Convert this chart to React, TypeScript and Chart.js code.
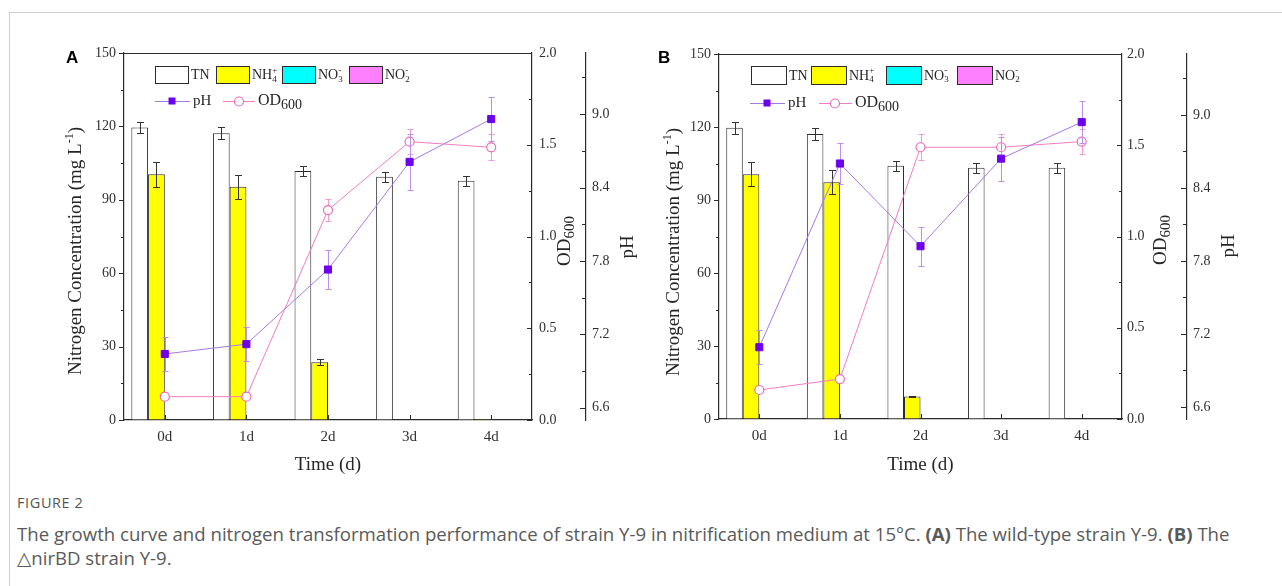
import React, { useEffect, useRef } from 'react';
import { Chart, registerables } from 'chart.js';

Chart.register(...registerables);

// ---------- data ----------
const categories = ['0d', '1d', '2d', '3d', '4d'];

const nitrogenTicks = [0, 30, 60, 90, 120, 150];
const nitrogenMinorTicks = [15, 45, 75, 105, 135];
const odTicks = [0, 0.5, 1.0, 1.5, 2.0];
const odMinorTicks = [0.25, 0.75, 1.25, 1.75];
const phTicks = [6.6, 7.2, 7.8, 8.4, 9.0];
const phMinorTicks = [6.9, 7.5, 8.1, 8.7, 9.3];

// Panel A (wild-type)
const tnA = [119.5, 117.2, 101.8, 99.4, 97.8];
const tnErrA = [2.4, 2.4, 2.2, 2.0, 2.0];
const nh4A = [100.4, 95.3, 23.6, 0, 0.4];
const nh4ErrA = [5.0, 5.0, 1.2, 0, 0];
const no3A = [0, 0, 0, 0, 0];
const no2A = [0, 0, 0, 0, 0];
const phA = [7.04, 7.12, 7.73, 8.61, 8.96];
const phErrA = [0.14, 0.14, 0.16, 0.23, 0.18];
const odA = [0.127, 0.127, 1.144, 1.517, 1.486];
const odErrA = [0, 0, 0.06, 0.07, 0.07];

// Panel B (ΔnirBD)
const tnB = [119.7, 117.1, 104.1, 103.3, 103.3];
const tnErrB = [2.4, 2.4, 2.0, 2.0, 2.0];
const nh4B = [100.6, 97.3, 9.2, 0, 0.3];
const nh4ErrB = [5.0, 5.0, 0.3, 0, 0];
const no3B = [0, 0, 0, 0, 0];
const no2B = [0, 0, 0, 0, 0];
const phB = [7.09, 8.6, 7.92, 8.64, 8.94];
const phErrB = [0.14, 0.17, 0.16, 0.18, 0.17];
const odB = [0.159, 0.219, 1.489, 1.489, 1.52];
const odErrB = [0, 0, 0.07, 0.07, 0.07];

// ---------- styles ----------
const SERIF = '"Liberation Serif", "Times New Roman", serif';
const AXIS = '#2b2b2b';
const TEXT = '#262626';
const TN_COLOR = '#ffffff';
const NH4_COLOR = '#ffff00';
const NO3_COLOR = '#00ffff';
const NO2_COLOR = '#ff80ff';
const PH_LINE = '#a47ae6';
const PH_MARK = '#6c00ee';
const PH_ERR = '#bb8ef2';
const OD_LINE = '#f07cc4';
const OD_MARK = '#ee6ab4';
const OD_ERR = '#f39ad0';

type Part = { t: string; size: number; dy: number; stack?: boolean };

function drawRich(ctx: CanvasRenderingContext2D, parts: Part[], x: number, y: number, rot: number, align: 'center' | 'left') {
  ctx.save();
  ctx.translate(x, y);
  ctx.rotate(rot);
  ctx.textBaseline = 'middle';
  ctx.textAlign = 'left';
  const widths = parts.map((p) => {
    ctx.font = `${p.size}px ${SERIF}`;
    return ctx.measureText(p.t).width;
  });
  let total = 0;
  parts.forEach((p, i) => {
    if (!p.stack) total += widths[i];
  });
  let cx = align === 'center' ? -total / 2 : 0;
  parts.forEach((p, i) => {
    ctx.font = `${p.size}px ${SERIF}`;
    ctx.fillText(p.t, cx, p.dy);
    if (!p.stack) cx += widths[i];
  });
  ctx.restore();
}

type PanelLayout = {
  canvasLeft: number;
  canvasWidth: number;
  leftW: number;
  odW: number;
  phW: number;
  padRight: number;
  padTop: number;
  padBottom: number;
  xH: number;
  letter: string;
  letterPos: [number, number];
  leftTitle: [number, number];
  timeTitle: [number, number];
  odTitle: [number, number];
  phTitle: [number, number];
  legendBoxes: number[];
  boxW: number;
  boxH: number;
  row1Top: number;
  row2Y: number;
  phLeg: [number, number, number, number];
  odLeg: [number, number, number, number];
  odPad: number;
  phPad: number;
};

type PanelData = {
  tn: number[]; tnErr: number[]; nh4: number[]; nh4Err: number[];
  no3: number[]; no2: number[]; ph: number[]; phErr: number[]; od: number[]; odErr: number[];
};

const layoutA: PanelLayout = {
  canvasLeft: 0, canvasWidth: 645, leftW: 124, odW: 54, phW: 50, padRight: 9,
  padTop: 53, padBottom: 20, xH: 40,
  letter: 'A', letterPos: [66, 63],
  leftTitle: [76, 251], timeTitle: [328, 465], odTitle: [565, 241], phTitle: [628, 247],
  legendBoxes: [31, 92, 158, 225], boxW: 33, boxH: 17, row1Top: 66, row2Y: 101,
  phLeg: [31, 66, 48, 69], odLeg: [99, 131, 115, 134], odPad: 7, phPad: 6,
};

const layoutB: PanelLayout = {
  canvasLeft: 645, canvasWidth: 637, leftW: 74, odW: 65, phW: 55, padRight: 40,
  padTop: 54, padBottom: 21, xH: 40,
  letter: 'B', letterPos: [658, 63],
  leftTitle: [674, 252], timeTitle: [920.5, 465], odTitle: [1161, 240], phTitle: [1229, 246],
  legendBoxes: [32, 92, 167, 238], boxW: 35, boxH: 18, row1Top: 66, row2Y: 103,
  phLeg: [31, 66, 48, 69], odLeg: [100, 133, 116, 136], odPad: 5, phPad: 6,
};

const dataA: PanelData = { tn: tnA, tnErr: tnErrA, nh4: nh4A, nh4Err: nh4ErrA, no3: no3A, no2: no2A, ph: phA, phErr: phErrA, od: odA, odErr: odErrA };
const dataB: PanelData = { tn: tnB, tnErr: tnErrB, nh4: nh4B, nh4Err: nh4ErrB, no3: no3B, no2: no2B, ph: phB, phErr: phErrB, od: odB, odErr: odErrB };

function drawErr(chart: any, index: number, meta: any) {
  const ds: any = chart.data.datasets[index];
  const errs: number[] | undefined = ds.errors;
  if (!errs) return;
  const scale = chart.scales[meta.yAxisID];
  const ctx: CanvasRenderingContext2D = chart.ctx;
  ctx.save();
  ctx.strokeStyle = ds.errColor;
  ctx.lineWidth = 1;
  const cap = ds.capHalf || 3.5;
  meta.data.forEach((el: any, i: number) => {
    const e = errs[i];
    if (!e) return;
    const v = ds.data[i];
    const x = Math.round(el.x) + 0.5;
    const yt = Math.round(scale.getPixelForValue(v + e)) + 0.5;
    const yb = Math.round(scale.getPixelForValue(v - e)) + 0.5;
    ctx.beginPath();
    ctx.moveTo(x, yt); ctx.lineTo(x, yb);
    ctx.moveTo(x - cap, yt); ctx.lineTo(x + cap, yt);
    ctx.moveTo(x - cap, yb); ctx.lineTo(x + cap, yb);
    ctx.stroke();
  });
  ctx.restore();
}

function makePlugins(L: PanelLayout) {
  const off = L.canvasLeft;
  const errorBars = {
    id: 'errorBars',
    beforeDatasetDraw(chart: any, args: any) {
      const ds: any = chart.data.datasets[args.index];
      if (ds.type === 'line') drawErr(chart, args.index, args.meta);
    },
    afterDatasetDraw(chart: any, args: any) {
      const ds: any = chart.data.datasets[args.index];
      if (ds.type !== 'line') drawErr(chart, args.index, args.meta);
    },
  };
  const decor = {
    id: 'decor',
    afterDraw(chart: any) {
      const ctx: CanvasRenderingContext2D = chart.ctx;
      const { chartArea, scales } = chart;
      ctx.save();
      ctx.strokeStyle = AXIS;
      ctx.lineWidth = 1;
      const line = (x1: number, y1: number, x2: number, y2: number) => {
        ctx.beginPath(); ctx.moveTo(x1, y1); ctx.lineTo(x2, y2); ctx.stroke();
      };
      const px = (s: any, v: number) => Math.round(s.getPixelForValue(v)) + 0.5;
      // top frame
      ctx.lineWidth = 1.2;
      line(chartArea.left, Math.round(chartArea.top) + 0.5, chartArea.right, Math.round(chartArea.top) + 0.5);
      ctx.lineWidth = 1;
      const y = scales.y;
      nitrogenTicks.forEach((v) => { const p = px(y, v); line(y.right - 5, p, y.right, p); });
      nitrogenMinorTicks.forEach((v) => { const p = px(y, v); line(y.right - 3, p, y.right, p); });
      const od = scales.od;
      odTicks.forEach((v) => { const p = px(od, v); line(od.left, p, od.left - 5, p); });
      odMinorTicks.forEach((v) => { const p = px(od, v); line(od.left, p, od.left - 3, p); });
      const ph = scales.ph;
      phTicks.forEach((v) => { const p = px(ph, v); line(ph.left, p, ph.left - 6, p); });
      phMinorTicks.forEach((v) => { const p = px(ph, v); line(ph.left, p, ph.left - 4, p); });
      const xs = scales.x;
      categories.forEach((_, i) => { const p = px(xs, i); line(p, chartArea.bottom, p, chartArea.bottom - 5); });

      // titles
      ctx.fillStyle = TEXT;
      drawRich(ctx, [
        { t: 'Nitrogen Concentration (mg L', size: 19, dy: 0 },
        { t: '-1', size: 12, dy: -6 },
        { t: ')', size: 19, dy: 0 },
      ], L.leftTitle[0] - off, L.leftTitle[1], -Math.PI / 2, 'center');
      drawRich(ctx, [{ t: 'Time (d)', size: 19, dy: 0 }], L.timeTitle[0] - off, L.timeTitle[1], 0, 'center');
      drawRich(ctx, [
        { t: 'OD', size: 19, dy: 0 },
        { t: '600', size: 15, dy: 5 },
      ], L.odTitle[0] - off, L.odTitle[1], -Math.PI / 2, 'center');
      drawRich(ctx, [{ t: 'pH', size: 19, dy: 0 }], L.phTitle[0] - off, L.phTitle[1], -Math.PI / 2, 'center');

      // panel letter
      ctx.font = `bold 17px "Liberation Sans", Arial, sans-serif`;
      ctx.fillStyle = '#000';
      ctx.textAlign = 'left';
      ctx.textBaseline = 'alphabetic';
      ctx.fillText(L.letter, L.letterPos[0] - off, L.letterPos[1]);

      // legend row 1
      const al = chartArea.left;
      const items: { fill: string; base: string; sub?: string; sup?: string }[] = [
        { fill: TN_COLOR, base: 'TN' },
        { fill: NH4_COLOR, base: 'NH', sub: '4', sup: '+' },
        { fill: NO3_COLOR, base: 'NO', sub: '3', sup: '-' },
        { fill: NO2_COLOR, base: 'NO', sub: '2', sup: '-' },
      ];
      const cy = L.row1Top + L.boxH / 2;
      items.forEach((it, i) => {
        const bx = al + L.legendBoxes[i];
        ctx.fillStyle = it.fill;
        ctx.fillRect(bx, L.row1Top, L.boxW, L.boxH);
        ctx.strokeStyle = AXIS;
        ctx.lineWidth = 1;
        ctx.strokeRect(Math.round(bx) + 0.5, L.row1Top + 0.5, L.boxW, L.boxH);
        ctx.fillStyle = TEXT;
        const parts: Part[] = [{ t: it.base, size: 14, dy: 0 }];
        if (it.sub) {
          parts.push({ t: it.sup || '', size: 9, dy: -5, stack: true });
          parts.push({ t: it.sub, size: 9, dy: 4 });
        }
        drawRich(ctx, parts, bx + L.boxW + 3, cy + 1, 0, 'left');
      });

      // legend row 2
      const ry = L.row2Y;
      ctx.strokeStyle = PH_LINE;
      ctx.lineWidth = 1;
      line(al + L.phLeg[0], ry + 0.5, al + L.phLeg[1], ry + 0.5);
      ctx.fillStyle = PH_MARK;
      ctx.fillRect(al + L.phLeg[2] - 3.5, ry - 3.5, 7, 7);
      ctx.fillStyle = TEXT;
      drawRich(ctx, [{ t: 'pH', size: 15, dy: 0 }], al + L.phLeg[3], ry, 0, 'left');
      ctx.strokeStyle = OD_LINE;
      line(al + L.odLeg[0], ry + 0.5, al + L.odLeg[1], ry + 0.5);
      ctx.beginPath();
      ctx.arc(al + L.odLeg[2], ry + 0.5, 4.5, 0, Math.PI * 2);
      ctx.fillStyle = '#fff';
      ctx.fill();
      ctx.strokeStyle = OD_MARK;
      ctx.lineWidth = 1.2;
      ctx.stroke();
      ctx.fillStyle = TEXT;
      drawRich(ctx, [
        { t: 'OD', size: 16, dy: 0 },
        { t: '600', size: 14, dy: 4 },
      ], al + L.odLeg[3], ry, 0, 'left');
      ctx.restore();
    },
  };
  return [errorBars, decor];
}

function buildConfig(d: PanelData, L: PanelLayout): any {
  const tickFont = { family: SERIF, size: 14 };
  const yBase = {
    type: 'linear',
    grid: { display: true, drawOnChartArea: false, drawTicks: false },
    border: { display: true, color: AXIS, width: 1.2 },
  };
  return {
    type: 'bar',
    data: {
      labels: categories,
      datasets: [
        { type: 'bar', label: 'TN', data: d.tn, yAxisID: 'y', errors: d.tnErr, errColor: '#333', capHalf: 3.5,
          backgroundColor: TN_COLOR, borderColor: AXIS, borderWidth: 1, order: 1 },
        { type: 'bar', label: 'NH4+', data: d.nh4, yAxisID: 'y', errors: d.nh4Err, errColor: '#333', capHalf: 3.5,
          backgroundColor: NH4_COLOR, borderColor: AXIS, borderWidth: 1, order: 1 },
        { type: 'bar', label: 'NO3-', data: d.no3, yAxisID: 'y',
          backgroundColor: NO3_COLOR, borderColor: AXIS, borderWidth: 1, order: 1 },
        { type: 'bar', label: 'NO2-', data: d.no2, yAxisID: 'y',
          backgroundColor: NO2_COLOR, borderColor: AXIS, borderWidth: 1, order: 1 },
        { type: 'line', label: 'pH', data: d.ph, yAxisID: 'ph', errors: d.phErr, errColor: PH_ERR, capHalf: 3,
          borderColor: PH_LINE, borderWidth: 1, tension: 0, fill: false,
          pointStyle: 'rect', pointRadius: 5, pointBackgroundColor: PH_MARK, pointBorderColor: PH_MARK, pointBorderWidth: 1, order: 0 },
        { type: 'line', label: 'OD600', data: d.od, yAxisID: 'od', errors: d.odErr, errColor: OD_ERR, capHalf: 3,
          borderColor: OD_LINE, borderWidth: 1, tension: 0, fill: false,
          pointStyle: 'circle', pointRadius: 4.5, pointBackgroundColor: '#ffffff', pointBorderColor: OD_MARK, pointBorderWidth: 1.2, order: 0 },
      ],
    },
    options: {
      responsive: false,
      animation: false,
      events: [],
      datasets: { bar: { barPercentage: 1, categoryPercentage: 0.82 } },
      layout: { padding: { left: 0, right: L.padRight, top: L.padTop, bottom: L.padBottom } },
      plugins: { legend: { display: false }, tooltip: { enabled: false }, title: { display: false } },
      scales: {
        x: {
          type: 'category',
          position: 'bottom',
          offset: true,
          grid: { display: true, drawOnChartArea: false, drawTicks: false, offset: true },
          border: { display: true, color: AXIS, width: 1.2 },
          ticks: { font: { family: SERIF, size: 15 }, color: '#303030', padding: 8, maxRotation: 0, autoSkip: false },
          afterFit: (s: any) => { s.height = L.xH; },
        },
        y: {
          ...yBase,
          position: 'left',
          min: 0,
          max: 150,
          weight: 0,
          ticks: { font: tickFont, color: '#303030', padding: 8, autoSkip: false, callback: (v: any) => String(v) },
          afterBuildTicks: (s: any) => { s.ticks = nitrogenTicks.map((v) => ({ value: v })); },
          afterFit: (s: any) => { s.width = L.leftW; },
        },
        od: {
          ...yBase,
          position: 'right',
          min: 0,
          max: 2,
          weight: 0,
          ticks: { font: tickFont, color: '#303030', padding: L.odPad, autoSkip: false, callback: (v: any) => Number(v).toFixed(1) },
          afterBuildTicks: (s: any) => { s.ticks = odTicks.map((v) => ({ value: v })); },
          afterFit: (s: any) => { s.width = L.odW; },
        },
        ph: {
          ...yBase,
          position: 'right',
          min: 6.5,
          max: 9.5,
          weight: 1,
          ticks: { font: tickFont, color: '#303030', padding: L.phPad, autoSkip: false, callback: (v: any) => Number(v).toFixed(1) },
          afterBuildTicks: (s: any) => { s.ticks = phTicks.map((v) => ({ value: v })); },
          afterFit: (s: any) => { s.width = L.phW; },
        },
      },
    },
    plugins: makePlugins(L),
  };
}

function Panel({ data, layout }: { data: PanelData; layout: PanelLayout }) {
  const ref = useRef<HTMLCanvasElement | null>(null);
  useEffect(() => {
    if (!ref.current) return;
    const chart = new Chart(ref.current, buildConfig(data, layout));
    return () => chart.destroy();
  }, [data, layout]);
  return (
    <canvas
      ref={ref}
      width={layout.canvasWidth}
      height={480}
      style={{ position: 'absolute', left: layout.canvasLeft, top: 0, width: layout.canvasWidth, height: 480 }}
    />
  );
}

export default function App() {
  const captionFont = '"Open Sans", "Noto Sans", "DejaVu Sans", sans-serif';
  return (
    <div style={{ position: 'absolute', left: 0, top: 0, width: 1282, height: 586, overflow: 'hidden', background: '#fff' }}>
      <div style={{ position: 'absolute', left: 9, top: 12, right: -2, bottom: -2, borderTop: '1px solid #cfcfcf', borderLeft: '1px solid #cfcfcf' }} />
      <Panel data={dataA} layout={layoutA} />
      <Panel data={dataB} layout={layoutB} />
      <div style={{ position: 'absolute', left: 17, top: 494, fontFamily: captionFont, fontSize: 14.5, lineHeight: '18px', color: '#555', letterSpacing: 0.6 }}>
        FIGURE 2
      </div>
      <div style={{ position: 'absolute', left: 17, top: 522, width: 1260, fontFamily: captionFont, fontSize: 18.6, lineHeight: '24px', color: '#5a5a5a', whiteSpace: 'nowrap' }}>
        The growth curve and nitrogen transformation performance of strain Y-9 in nitrification medium at 15°C. <b>(A)</b> The wild-type strain Y-9. <b>(B)</b> The
        <br />
        △nirBD strain Y-9.
      </div>
    </div>
  );
}
